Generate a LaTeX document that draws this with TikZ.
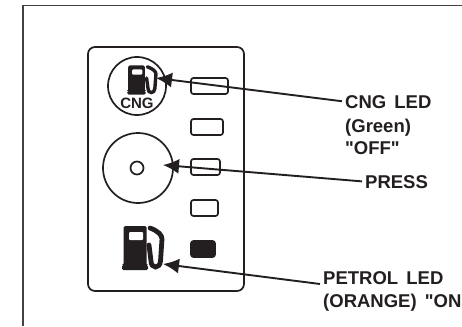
\documentclass[tikz,border=0pt]{standalone}
\usepackage{fontspec}
\setmainfont[Ligatures=TeXOff]{Liberation Sans}
\usetikzlibrary{arrows.meta}
\definecolor{ink}{HTML}{231F20}
\tikzset{
	lbl/.style={anchor=base west,inner sep=0pt,text=ink,font=\fontsize{18.5}{22}\selectfont\bfseries},
	led/.style={draw=ink,line width=1.7pt,rounded corners=2.5pt,inner sep=0pt,minimum height=16pt},
	ring/.style={draw=ink,line width=1.7pt,circle,inner sep=0pt},
	callout/.style={draw=ink,line width=1.9pt,shorten <=3pt,-{Latex[length=16pt,width=15pt]}},
	pics/pump/.style={code={
		\fill[ink,rounded corners=1.5pt] (-13,22) -- (-13,17) -- (-11.5,17) -- (-11.5,-22) -- (11.5,-22) -- (11.5,17) -- (13,17) -- (13,22) -- cycle;
		\fill[white,rounded corners=1pt] (-6,-16) rectangle (8,-8);
		\draw[ink,line width=#1,line cap=round] (15,-20) .. controls (23,-17) and (27,-13) .. (27,-9) -- (25.5,13) .. controls (25,21) and (16,21) .. (16,13) -- (14,-3);
	}}
}
\begin{document}
\begin{tikzpicture}[x=1pt,y=-1pt]
	\useasboundingbox (0,0) rectangle (462,326);
	\fill[white] (0,0) rectangle (462,326);

	% frame and panel
	\draw[ink!85,line width=1.5pt] (23,326) -- (23,5.5) -- (462,5.5);
	\draw[ink,line width=1.7pt,rounded corners=7pt] (88,47) rectangle (244,291);

	% leds
	\node[led,minimum width=37pt] at (209.5,86) (ledone) {};
	\node[led,minimum width=32pt] at (207,127) (ledtwo) {};
	\node[led,minimum width=29pt] at (205.5,167) (ledthree) {};
	\node[led,minimum width=27pt] at (204.5,208) (ledfour) {};
	\node[led,fill=ink,minimum width=24pt] at (203,249) (ledfive) {};

	% buttons
	\node[ring,minimum size=58pt] at (137,86) (cngbutton) {};
	\node[ring,minimum size=70pt] at (138,168) (pressbutton) {};
	\node[ring,minimum size=13pt] at (137,168) (presshole) {};
	\pic[xscale=.72,yscale=.66] at (136.5,80) {pump=3.4pt};
	\pic at (135,248) {pump=4.8pt};
	\node[anchor=base,inner sep=0pt,text=ink,font=\fontsize{15}{16}\selectfont\bfseries] at (137,108) (cngtext) {CNG};

	% labels
	\node[lbl] at (345,108) (cngled) {CNG\hspace{3pt} LED};
	\node[lbl] at (345,132) (cnggreen) {(Green)};
	\node[lbl] at (345,154) (cngoff) {"OFF"};
	\node[lbl] at (365,188) (press) {PRESS};
	\node[lbl] at (323,284) (petrolled) {PETROL\hspace{3pt} LED};
	\node[lbl] at (323,307) (petrolon) {(ORANGE)\hspace{3pt} "ON};

	\coordinate (cngtip) at (156,78);
	\coordinate (presstip) at (163,165);
	\coordinate (petroltip) at (163,264);

	\draw [callout] (cngled.west) -- (cngtip);
	\draw [callout] (press.west) -- (presstip);
	\draw [callout] (petrolled.south west) -- (petroltip);
\end{tikzpicture}
\end{document}
